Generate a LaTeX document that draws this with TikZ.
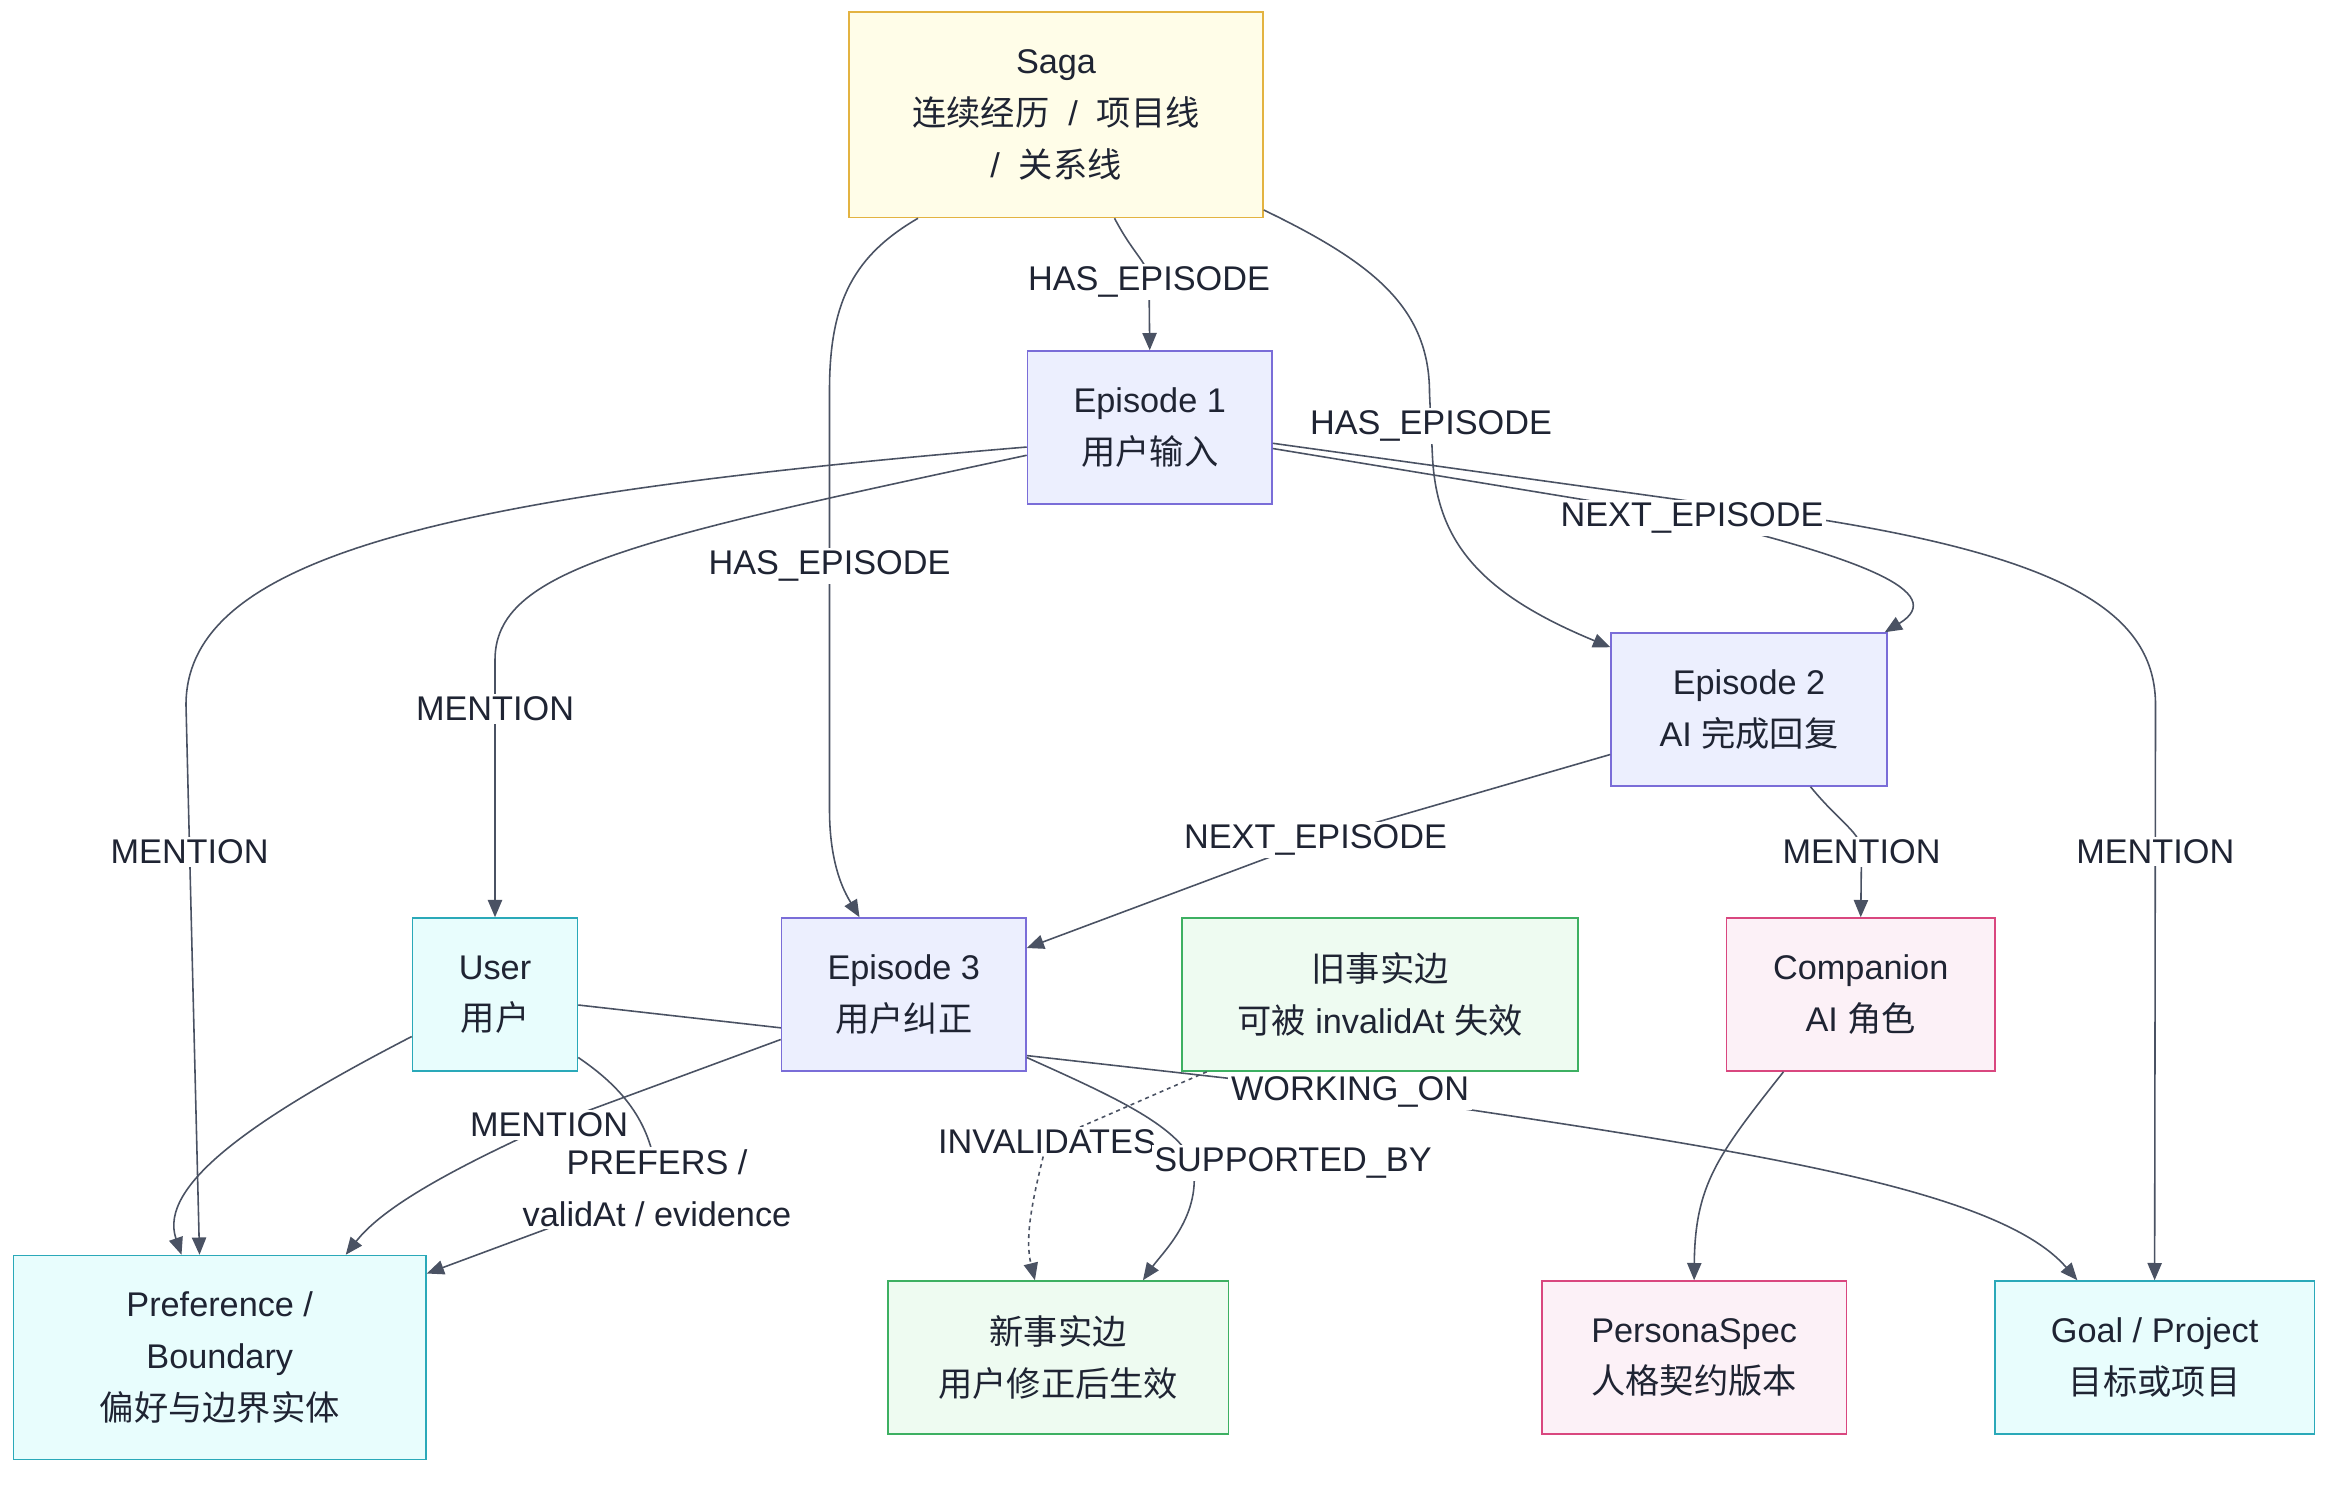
\documentclass[tikz,border=0pt]{standalone}
\usepackage{fontspec}
\setmainfont{Liberation Sans}
\newfontfamily\cjk{Noto Sans CJK SC}
\usetikzlibrary{arrows.meta,positioning,calc,backgrounds}

\definecolor{ink}{HTML}{1F2433}
\definecolor{edge}{HTML}{4A5263}
\definecolor{sagafill}{HTML}{FFFDE8}
\definecolor{sagaline}{HTML}{E3B341}
\definecolor{epfill}{HTML}{ECEFFE}
\definecolor{epline}{HTML}{7A6DD8}
\definecolor{entfill}{HTML}{E8FDFD}
\definecolor{entline}{HTML}{2AA9B9}
\definecolor{factfill}{HTML}{EEFBF1}
\definecolor{factline}{HTML}{3DB062}
\definecolor{pfill}{HTML}{FCF1F7}
\definecolor{pline}{HTML}{D9477F}

\begin{document}
\begin{tikzpicture}[x=0.02cm,y=-0.02cm,font=\fontsize{13}{19.6}\selectfont]

	\tikzstyle{box}=[rectangle,draw,line width=0.6pt,text=ink,align=center,
		minimum width=3.26cm,minimum height=2.04cm,inner sep=1mm]
	\tikzstyle{saga}=[box,fill=sagafill,draw=sagaline]
	\tikzstyle{episode}=[box,fill=epfill,draw=epline]
	\tikzstyle{entity}=[box,fill=entfill,draw=entline]
	\tikzstyle{fact}=[box,fill=factfill,draw=factline]
	\tikzstyle{persona}=[box,fill=pfill,draw=pline]
	\tikzstyle{arrow}=[-{Triangle[length=2.3mm,width=1.9mm]},line width=0.6pt,draw=edge]
	\tikzstyle{weak}=[dash pattern=on 1.5pt off 1.5pt]
	\tikzstyle{lbl}=[fill=white,text=ink,align=center,inner sep=1pt]

	\useasboundingbox (0,0) rectangle (1568,994);

	\node[saga,minimum width=5.52cm,minimum height=2.74cm](saga) at (704,76.5){Saga\\{\cjk 连续经历}~ / ~{\cjk 项目线}\\/ ~{\cjk 关系线}};
	\node[episode,below=1.76cm of saga,xshift=1.25cm](ep1){Episode 1\\{\cjk 用户输入}};
	\node[episode,minimum width=3.68cm](ep2) at (1166,473){Episode 2\\AI {\cjk 完成回复}};
	\node[entity,minimum width=2.2cm](user) at (330,663){User\\{\cjk 用户}};
	\node[episode,right=2.7cm of user](ep3){Episode 3\\{\cjk 用户纠正}};
	\node[fact,minimum width=5.28cm,right=2.06cm of ep3](oldfact){{\cjk 旧事实边}\\{\cjk 可被} invalidAt {\cjk 失效}};
	\node[persona,minimum width=3.58cm,right=1.96cm of oldfact](companion){Companion\\AI {\cjk 角色}};
	\node[entity,minimum width=5.5cm,minimum height=2.72cm](pref) at (146.5,905){Preference /\\Boundary\\{\cjk 偏好与边界实体}};
	\node[fact,minimum width=4.54cm,right=6.14cm of pref](newfact){{\cjk 新事实边}\\{\cjk 用户修正后生效}};
	\node[persona,minimum width=4.06cm,right=4.16cm of newfact](persona){PersonaSpec\\{\cjk 人格契约版本}};
	\node[entity,minimum width=4.26cm,right=1.96cm of persona](goal){Goal / Project\\{\cjk 目标或项目}};

	% edges running behind the boxes
	\begin{scope}[on background layer]
		\fill[white] (0,0) rectangle (1568,994);
		\draw[arrow] ($(user.east)+(0,7)$) -- (900,728) node[lbl](work){WORKING\_ON} .. controls (1150,765) and (1330,790) .. ($(goal.north)+(-51.5,0)$);
	\end{scope}

	\draw[arrow] ($(saga.south)+(39,0)$) .. controls (757,172) and (766,175) .. (766,188) node[lbl](has1){HAS\_EPISODE} -- (ep1.north);
	\draw[arrow] ($(saga.south)+(-92,0)$) .. controls (570,170) and (553,200) .. (553,260) -- node[lbl,pos=0.42](has3){HAS\_EPISODE} (553,540) .. controls (553,580) and (565,598) .. ($(ep3.north)+(-29.5,0)$);
	\draw[arrow] ($(saga.east)+(0,63.5)$) .. controls (915,175) and (953,205) .. (953,262) -- (954,284) node[lbl](has2){HAS\_EPISODE} -- (955,305) .. controls (958,360) and (985,395) .. ($(ep2.north west)+(0,10)$);

	\draw[arrow] ($(ep1.west)+(0,13)$) .. controls (300,330) and (124,370) .. (124,470) -- node[lbl,pos=0.267](men1){MENTION} ($(pref.north)+(-13.5,0)$);
	\draw[arrow] ($(ep1.west)+(0,18.5)$) .. controls (420,360) and (330,380) .. (330,440) -- node[lbl,pos=0.19](men2){MENTION} (user.north);
	\draw[arrow] ($(ep1.east)+(0,10.5)$) -- (1205,345) .. controls (1380,372) and (1437,410) .. (1437,470) -- node[lbl,pos=0.255](men3){MENTION} (goal.north);
	\draw[arrow] ($(ep1.east)+(0,14)$) -- (1128,345) node[lbl](next1){NEXT\_EPISODE} .. controls (1240,372) and (1300,395) .. ($(ep2.north east)+(-2,0)$);

	\draw[arrow] ($(ep2.west)+(0,30)$) -- (877,560) node[lbl](next2){NEXT\_EPISODE} -- ($(ep3.east)+(0,-31)$);
	\draw[arrow] ($(ep2.south)+(41,0)$) .. controls (1228,550) and (1241,555) .. (1241,568) node[lbl](men4){MENTION} -- (companion.north);
	\draw[arrow] ($(companion.south)+(-51.5,0)$) .. controls (1145,770) and (1130,790) .. (persona.north);

	\draw[arrow] ($(user.west)+(0,28)$) .. controls (170,745) and (105,790) .. ($(pref.north)+(-25.5,0)$);
	\draw[arrow] ($(ep3.west)+(0,30)$) -- (366,750) node[lbl](men5){MENTION} .. controls (300,780) and (255,805) .. ($(pref.north)+(84,0)$);
	\draw[arrow] ($(user.east)+(0,42)$) .. controls (415,725) and (437,750) .. (438,792) node[lbl](prefers){PREFERS /\\validAt / evidence} -- ($(pref.east)+(0,-56)$);

	\draw[arrow,weak] ($(oldfact.south west)+(17,0)$) -- (698,761) node[lbl](inval){INVALIDATES} .. controls (688,800) and (683,825) .. ($(newfact.north)+(-15.5,0)$);
	\draw[arrow] ($(ep3.east)+(0,42)$) .. controls (740,730) and (785,750) .. (795,775) node[lbl,xshift=1.34cm](supp){SUPPORTED\_BY} .. controls (802,810) and (775,835) .. ($(newfact.north)+(56.5,0)$);

\end{tikzpicture}
\end{document}
